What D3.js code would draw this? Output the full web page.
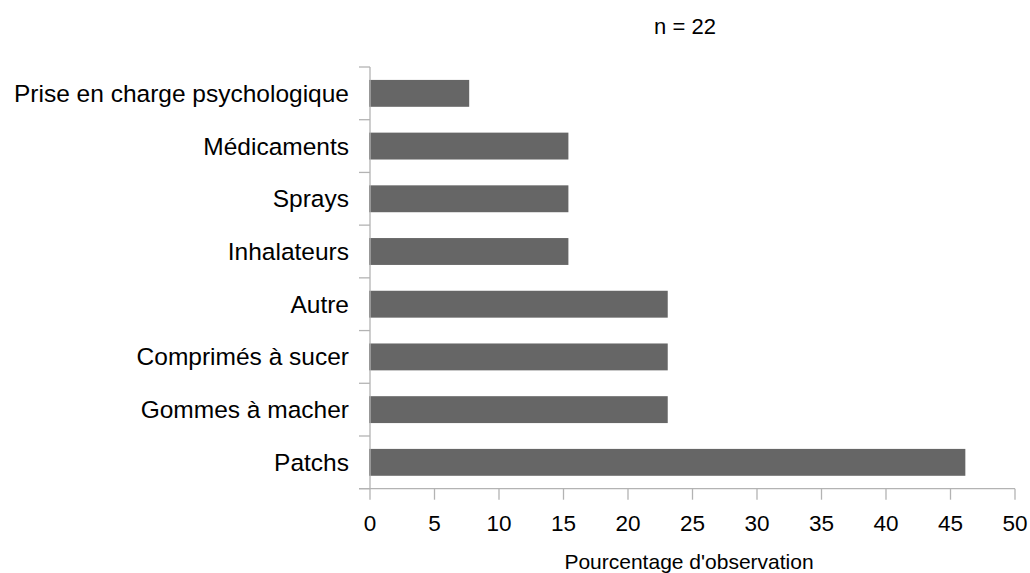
<!DOCTYPE html>
<html>
<head>
<meta charset="utf-8">
<script src="https://cdn.jsdelivr.net/npm/d3@7"></script>
<style>
  body { margin: 0; background: #fff; }
  svg text { font-family: "Liberation Sans", Arial, sans-serif; fill: #000; }
</style>
</head>
<body>
<script>
const categories = [
  "Prise en charge psychologique",
  "Médicaments",
  "Sprays",
  "Inhalateurs",
  "Autre",
  "Comprimés à sucer",
  "Gommes à macher",
  "Patchs"
];
const values = [7.69, 15.38, 15.38, 15.38, 23.08, 23.08, 23.08, 46.15];
const xTicks = [0, 5, 10, 15, 20, 25, 30, 35, 40, 45, 50];
const subtitle = "n = 22";
const xTitle = "Pourcentage d'observation";

const width = 1030, height = 573;
const plotLeft = 370, plotRight = 1015, plotTop = 67, plotBottom = 488.7;

const svg = d3.select("body").append("svg")
  .attr("width", width)
  .attr("height", height);

const x = d3.scaleLinear().domain([0, 50]).range([plotLeft, plotRight]);
const y = d3.scaleBand().domain(categories).range([plotTop, plotBottom])
  .paddingInner(0.49).paddingOuter(0.245);

// bars
svg.selectAll("rect.bar")
  .data(categories)
  .join("rect")
  .attr("class", "bar")
  .attr("x", x(0) - 1)
  .attr("y", d => y(d))
  .attr("width", (d, i) => x(values[i]) - x(0) + 1)
  .attr("height", y.bandwidth())
  .attr("fill", "#666666");

// y axis: line + boundary ticks
const axisColor = "#b3b3b3";
const step = (plotBottom - plotTop) / categories.length;
const bounds = d3.range(categories.length + 1).map(i => plotTop + i * step);
svg.append("line")
  .attr("x1", plotLeft).attr("x2", plotLeft)
  .attr("y1", plotTop).attr("y2", plotBottom)
  .attr("stroke", axisColor).attr("stroke-width", 1.3);
svg.selectAll("line.ytick")
  .data(bounds)
  .join("line")
  .attr("class", "ytick")
  .attr("x1", plotLeft - 11).attr("x2", plotLeft)
  .attr("y1", d => d).attr("y2", d => d)
  .attr("stroke", axisColor).attr("stroke-width", 1.3);

svg.selectAll("text.ylab")
  .data(categories)
  .join("text")
  .attr("class", "ylab")
  .attr("x", 349)
  .attr("y", d => y(d) + y.bandwidth() / 2)
  .attr("dy", "0.35em")
  .attr("text-anchor", "end")
  .attr("font-size", 24.5)
  .text(d => d);

// x axis
svg.append("line")
  .attr("x1", plotLeft - 11).attr("x2", plotRight)
  .attr("y1", plotBottom).attr("y2", plotBottom)
  .attr("stroke", axisColor).attr("stroke-width", 1.3);
svg.selectAll("line.xtick")
  .data(xTicks)
  .join("line")
  .attr("class", "xtick")
  .attr("x1", d => x(d)).attr("x2", d => x(d))
  .attr("y1", plotBottom).attr("y2", plotBottom + 11)
  .attr("stroke", axisColor).attr("stroke-width", 1.3);
svg.selectAll("text.xlab")
  .data(xTicks)
  .join("text")
  .attr("class", "xlab")
  .attr("x", d => x(d))
  .attr("y", 531)
  .attr("text-anchor", "middle")
  .attr("font-size", 22.5)
  .text(d => d);

svg.append("text")
  .attr("x", 689)
  .attr("y", 569)
  .attr("text-anchor", "middle")
  .attr("font-size", 21)
  .text(xTitle);

svg.append("text")
  .attr("x", 685)
  .attr("y", 34)
  .attr("text-anchor", "middle")
  .attr("font-size", 22)
  .text(subtitle);
</script>
</body>
</html>
